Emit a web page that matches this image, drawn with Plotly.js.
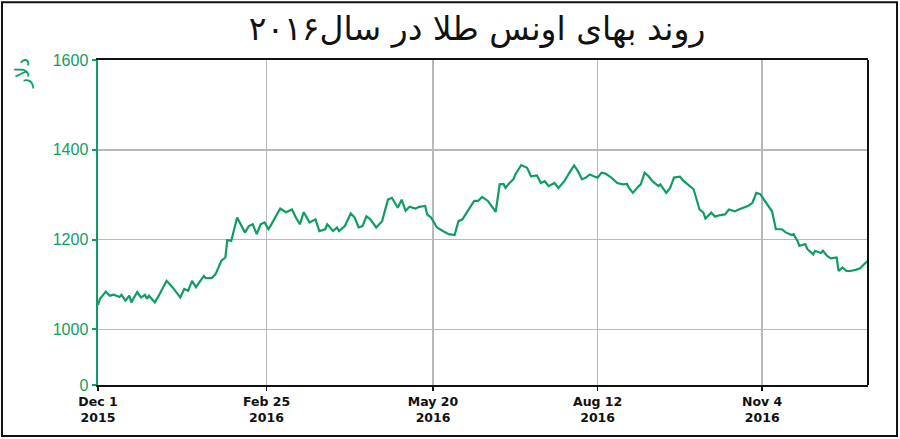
<!DOCTYPE html>
<html>
<head>
<meta charset="utf-8">
<script src="https://cdn.plot.ly/plotly-3.0.1.min.js"></script>
<style>html,body{margin:0;padding:0;background:#fff;}#chart{width:900px;height:439px;}</style>
</head>
<body>
<div id="chart"></div>
<script>
const titleText = 'روند بهای اونس طلا در سال۲۰۱۶';
const yUnit = 'دلار';
const dates = ['2015-12-01','2015-12-02','2015-12-05','2015-12-07','2015-12-09','2015-12-12','2015-12-13','2015-12-15','2015-12-17','2015-12-18','2015-12-21','2015-12-23','2015-12-25','2015-12-26','2015-12-27','2015-12-30',
'2016-01-01','2016-01-05','2016-01-08','2016-01-12','2016-01-14','2016-01-16','2016-01-18','2016-01-20','2016-01-24','2016-01-25','2016-01-28','2016-01-30',
'2016-02-02','2016-02-04','2016-02-05','2016-02-07','2016-02-10','2016-02-11','2016-02-14','2016-02-16','2016-02-18','2016-02-20','2016-02-22','2016-02-24','2016-02-26','2016-02-27',
'2016-03-01','2016-03-03','2016-03-06','2016-03-09','2016-03-11','2016-03-13','2016-03-15','2016-03-18','2016-03-21','2016-03-23','2016-03-26','2016-03-27','2016-03-30',
'2016-04-01','2016-04-02','2016-04-05','2016-04-08','2016-04-10','2016-04-12','2016-04-14','2016-04-16','2016-04-18','2016-04-21','2016-04-24','2016-04-27','2016-04-29',
'2016-05-02','2016-05-04','2016-05-06','2016-05-08','2016-05-11','2016-05-13','2016-05-16','2016-05-17','2016-05-19','2016-05-22','2016-05-25','2016-05-28','2016-05-31',
'2016-06-02','2016-06-04','2016-06-08','2016-06-10','2016-06-12','2016-06-14','2016-06-17','2016-06-20','2016-06-21','2016-06-23','2016-06-25','2016-06-26','2016-06-28','2016-06-30',
'2016-07-01','2016-07-04','2016-07-07','2016-07-09','2016-07-12','2016-07-14','2016-07-16','2016-07-18','2016-07-21','2016-07-23','2016-07-26','2016-07-29','2016-07-31',
'2016-08-02','2016-08-04','2016-08-06','2016-08-08','2016-08-10','2016-08-12','2016-08-14','2016-08-16','2016-08-19','2016-08-22','2016-08-25','2016-08-27','2016-08-28','2016-08-30',
'2016-09-02','2016-09-03','2016-09-05','2016-09-07','2016-09-09','2016-09-12','2016-09-13','2016-09-16','2016-09-18','2016-09-20','2016-09-23','2016-09-25','2016-09-27','2016-09-30',
'2016-10-01','2016-10-03','2016-10-05','2016-10-06','2016-10-09','2016-10-11','2016-10-13','2016-10-16','2016-10-18','2016-10-21','2016-10-23','2016-10-26','2016-10-28','2016-10-30',
'2016-11-01','2016-11-03','2016-11-05','2016-11-07','2016-11-09','2016-11-11','2016-11-14','2016-11-16','2016-11-19','2016-11-20','2016-11-22','2016-11-23','2016-11-26','2016-11-27','2016-11-30',
'2016-12-01','2016-12-04','2016-12-05','2016-12-07','2016-12-09','2016-12-12','2016-12-13','2016-12-15','2016-12-17','2016-12-19','2016-12-22','2016-12-24','2016-12-26','2016-12-28'];
const prices = [1054,1068,1084,1075,1077,1072,1077,1064,1075,1060,1083,1071,1077,1068,1075,1060,
1075,1108,1094,1071,1090,1086,1108,1094,1119,1114,1114,1123,
1153,1160,1199,1197,1249,1241,1216,1230,1234,1212,1234,1238,1223,1230,
1252,1269,1261,1267,1249,1234,1261,1238,1245,1219,1223,1234,1219,
1227,1219,1230,1258,1249,1227,1230,1252,1245,1227,1241,1289,1293,
1271,1289,1264,1273,1269,1273,1275,1256,1249,1227,1219,1212,1210,
1241,1245,1271,1286,1286,1295,1286,1267,1262,1323,1324,1315,1326,1334,
1345,1366,1360,1341,1343,1326,1330,1319,1326,1315,1330,1352,1365,
1352,1334,1338,1345,1341,1338,1349,1347,1338,1326,1323,1324,1315,1304,
1319,1323,1349,1341,1330,1319,1323,1304,1315,1338,1340,1330,1323,1312,
1297,1267,1260,1247,1260,1251,1254,1256,1267,1263,1267,1271,1275,1282,
1304,1301,1289,1275,1263,1223,1223,1216,1210,1212,1197,1186,1190,1179,1167,
1175,1170,1175,1164,1158,1160,1130,1138,1130,1130,1133,1136,1145,1153];
const xTickVals = ['2015-12-01','2016-02-25','2016-05-20','2016-08-12','2016-11-04'];
const xTickText = ['Dec 1<br>2015','Feb 25<br>2016','May 20<br>2016','Aug 12<br>2016','Nov 4<br>2016'];
const yTickVals = [876,1000,1200,1400,1600];
const yTickText = ['0','1000','1200','1400','1600'];

const green = '#0f9d63';
const trace = {x: dates, y: prices, type: 'scatter', mode: 'lines',
  line: {color: green, width: 2.2}, hoverinfo: 'skip'};

const layout = {
  width: 900, height: 439,
  margin: {l: 98, r: 32, t: 60, b: 54},
  paper_bgcolor: '#fff', plot_bgcolor: '#fff',
  showlegend: false,
  title: {text: titleText, x: 0.53, xanchor: 'center', y: 0.935, yanchor: 'middle',
    font: {family: 'DejaVu Sans', size: 33, color: '#111'}},
  xaxis: {type: 'date', range: ['2015-12-01','2016-12-28'],
    tickvals: xTickVals, ticktext: xTickText, tickangle: 0,
    showgrid: true, gridcolor: '#b9b9b9', gridwidth: 1.5,
    showline: true, linecolor: '#111', linewidth: 2, mirror: true,
    ticks: 'outside', ticklen: 4, tickcolor: '#111', tickwidth: 1.5,
    tickfont: {family: 'DejaVu Sans', size: 12.5, color: '#111', weight: 'bold'},
    zeroline: false, fixedrange: true},
  yaxis: {range: [876, 1600], tickvals: yTickVals, ticktext: yTickText,
    showgrid: true, gridcolor: '#b9b9b9', gridwidth: 1.5,
    showline: true, linecolor: green, linewidth: 2.5,
    ticks: 'outside', ticklen: 4, tickcolor: green, tickwidth: 2,
    tickfont: {family: 'Liberation Sans, Arial', size: 16, color: green},
    zeroline: false, fixedrange: true},
  shapes: [
    {type: 'line', xref: 'paper', yref: 'paper', x0: 1, x1: 1, y0: 0, y1: 1,
      line: {color: '#111', width: 2}},
    {type: 'rect', xref: 'paper', yref: 'paper', x0: -0.1247, x1: 1.0377, y0: -0.157, y1: 1.178,
      line: {color: '#111', width: 2}, fillcolor: 'rgba(0,0,0,0)'}
  ],
  annotations: [
    {text: yUnit, xref: 'paper', yref: 'paper', x: -0.099, y: 0.96, textangle: -90,
      showarrow: false, xanchor: 'center', yanchor: 'middle',
      font: {family: 'DejaVu Sans', size: 20, color: green}}
  ]
};
Plotly.newPlot('chart', [trace], layout, {displayModeBar: false, staticPlot: true});
</script>
</body>
</html>
